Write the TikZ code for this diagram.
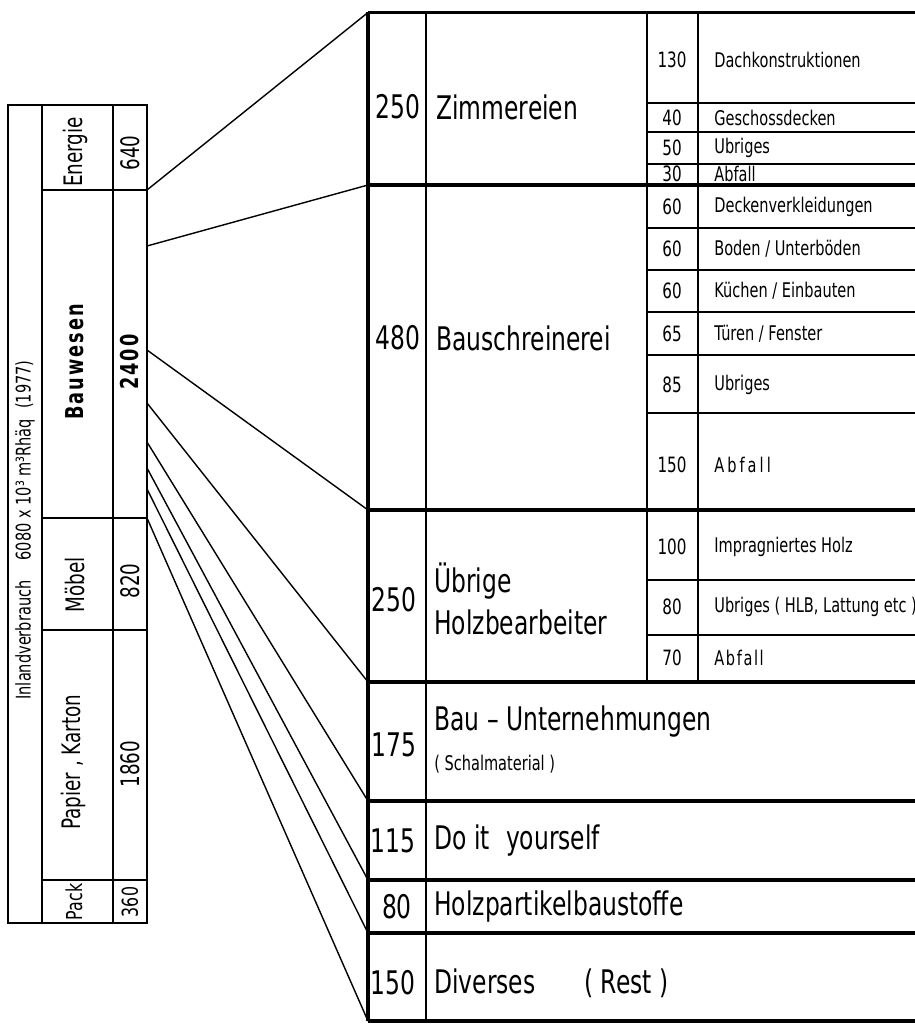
\documentclass[tikz,border=0pt]{standalone}
\usepackage{fontspec}
\setmainfont{DejaVu Sans}[FakeStretch=0.72]
\usepackage{tikz}

\begin{document}
\begin{tikzpicture}[
  x=0.02cm, y=-0.02cm,
  barline/.style={line width=1pt},
  tabthick/.style={line width=1.8pt},
  tabthin/.style={line width=1.05pt},
  con/.style={line width=0.8pt},
  bartxt/.style={rotate=90, inner sep=0pt, font=\fontsize{14.5}{16}\selectfont},
  barsmall/.style={rotate=90, inner sep=0pt, font=\fontsize{12.5}{14}\selectfont},
  barbold/.style={rotate=90, inner sep=0pt,
                  font=\fontsize{14}{16}\selectfont\bfseries\addfontfeature{LetterSpace=8}},
  ttl/.style={rotate=90, inner sep=0pt, font=\fontsize{11.5}{13}\selectfont},
  bignum/.style={inner sep=0pt, font=\fontsize{18.5}{24}\selectfont},
  biglab/.style={bignum, anchor=west, align=left},
  subnum/.style={inner sep=0pt, font=\fontsize{12}{14}\selectfont},
  sublab/.style={inner sep=0pt, anchor=west, font=\fontsize{11.5}{13}\selectfont}
]
  \useasboundingbox (0,0) rectangle (915,1024);

  % ---- Inlandverbrauch (linker Balken) ----
  \draw[barline] (8,105) rectangle (147,923);
  \draw[barline] (42,105) -- (42,923) (113,105) -- (113,923);
  \foreach \y in {190,518,630,880}
    \draw[barline] (42,\y) -- (147,\y);

  \node[ttl] (inland) at (25,530)
    {Inlandverbrauch\quad 6080 x 10³ m³Rhäq\enspace(1977)};
  \node[bartxt] (energie) at (75,152) {Energie};
  \node[bartxt] (e640) at (130,153) {640};
  \node[barbold] (bauwesen) at (75,362) {Bauwesen};
  \node[barbold] (b2400) at (130,362) {2400};
  \node[bartxt] (moebel) at (75,585) {Möbel};
  \node[bartxt] (m820) at (130,581) {820};
  \node[bartxt] (papier) at (73,762) {Papier , Karton};
  \node[bartxt] (p1860) at (130,764) {1860};
  \node[barsmall] (pack) at (74,902) {Pack};
  \node[barsmall] (k360) at (130,902) {360};

  % ---- Tabelle (rechts) ----
  \draw[tabthick] (368,12.5) -- (368,1021);
  \draw[tabthin] (426,12.5) -- (426,1021);
  \draw[tabthin] (647,12.5) -- (647,682) (698,12.5) -- (698,682);
  \foreach \y in {12.5,185,510,682,801,880,933,1021}
    \draw[tabthick] (368,\y) -- (915,\y);
  \foreach \y in {103,132,164,228,270,312,355,413,580,635}
    \draw[tabthin] (647,\y) -- (915,\y);

  % Zimmereien
  \node[bignum] (zn) at (398,107) {250};
  \node[biglab] (zl) at (436,107) {Zimmereien};
  \node[subnum] (zn1) at (672,60)  {130};
  \node[sublab] (zl1) at (714,60)  {Dachkonstruktionen};
  \node[subnum] (zn2) at (672,118) {40};
  \node[sublab] (zl2) at (714,118) {Geschossdecken};
  \node[subnum] (zn3) at (672,148) {50};
  \node[sublab] (zl3) at (714,148) {Ubriges};
  \node[subnum] (zn4) at (672,174) {30};
  \node[sublab] (zl4) at (714,174) {Abfall};

  % Bauschreinerei
  \node[bignum] (sn) at (398,338) {480};
  \node[biglab] (sl) at (436,338) {Bauschreinerei};
  \node[subnum] (sn1) at (672,207) {60};
  \node[sublab] (sl1) at (714,207) {Deckenverkleidungen};
  \node[subnum] (sn2) at (672,249) {60};
  \node[sublab] (sl2) at (714,249) {Boden / Unterböden};
  \node[subnum] (sn3) at (672,291) {60};
  \node[sublab] (sl3) at (714,291) {Küchen / Einbauten};
  \node[subnum] (sn4) at (672,334) {65};
  \node[sublab] (sl4) at (714,334) {Türen / Fenster};
  \node[subnum] (sn5) at (672,385) {85};
  \node[sublab] (sl5) at (714,385) {Ubriges};
  \node[subnum] (sn6) at (672,465) {150};
  \node[sublab, font=\fontsize{11.5}{13}\selectfont\addfontfeature{LetterSpace=15}]
    (sl6) at (714,465) {Abfall};

  % Uebrige Holzbearbeiter
  \node[bignum] (hn) at (394,600) {250};
  \node[biglab] (hl) at (434,599) {Übrige\\Holzbearbeiter};
  \node[subnum] (hn1) at (672,547) {100};
  \node[sublab] (hl1) at (714,547) {Impragniertes Holz};
  \node[subnum] (hn2) at (672,607) {80};
  \node[sublab] (hl2) at (714,607) {Ubriges ( HLB, Lattung etc )};
  \node[subnum] (hn3) at (672,658) {70};
  \node[sublab, font=\fontsize{11.5}{13}\selectfont\addfontfeature{LetterSpace=8}]
    (hl3) at (714,658) {Abfall};

  % restliche Zeilen
  \node[bignum] (un) at (394,745) {175};
  \node[biglab] (ul) at (434,722) {Bau – Unternehmungen};
  \node[sublab] (ul2) at (434,764) {( Schalmaterial )};
  \node[bignum] (dn) at (393,841) {115};
  \node[biglab] (dl) at (434,841) {Do it\enspace yourself};
  \node[bignum] (pn) at (397,907) {80};
  \node[biglab] (pl) at (434,907) {Holzpartikelbaustoffe};
  \node[bignum] (rn) at (393,983) {150};
  \node[biglab] (rl) at (434,983) {Diverses\quad\enspace ( Rest )};

  % ---- Verbindungen Bauwesen -> Tabelle ----
  \foreach \i/\a/\b in {0/190/12.5, 1/246/185, 2/350/510, 3/403/682,
                        4/442/801, 5/468/880, 6/489/933, 7/518/1021} {
    \coordinate (in\i) at (147,\a);
    \coordinate (out\i) at (368,\b);
  }
  \foreach \i in {0,...,7}
    \draw[con] (in\i) -- (out\i);
\end{tikzpicture}
\end{document}
